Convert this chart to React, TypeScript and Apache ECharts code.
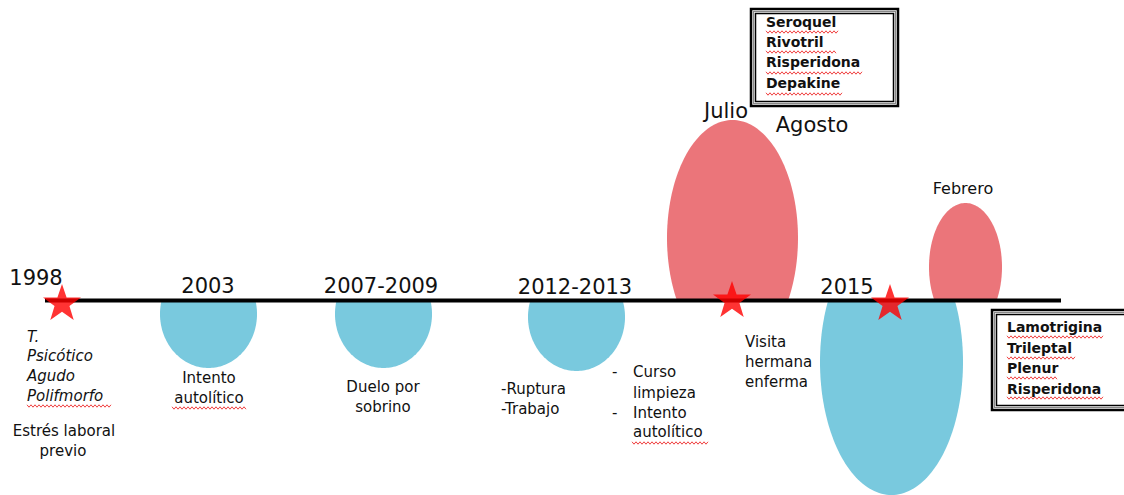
import React, { useEffect, useRef } from "react";
import * as echarts from "echarts";

// Timeline axis (pixel-like units, y grows downward)
const LINE_Y = 300.5;
const lineStart = 45;
const lineEnd = 1061;

// Year labels on the timeline
const yearLabels = ["1998", "2003", "2007-2009", "2012-2013", "2015"];
const yearLabelX = [36, 208, 381, 575, 847];
const yearLabelY = [278, 286, 286, 287, 287];

// Blue (below the line) episodes: centre, radii
const blueCx = [208.5, 383.5, 576.5, 891.5];
const blueCy = [314, 314, 317, 362];
const blueRx = [48.5, 48.5, 48.5, 71.5];
const blueRy = [54, 54, 54, 133];

// Red (above the line) episodes
const redCx = [732.5, 965.5];
const redCy = [238, 267];
const redRx = [65.5, 36.5];
const redRy = [118, 64];

// Stars
const starX = [62, 732, 890];
const starY = [302, 299, 302];

// Month labels
const monthLabels = ["Julio", "Agosto", "Febrero"];
const monthX = [726, 812, 963];
const monthY = [111, 125, 188];
const monthSize = [21, 21, 16];

// Annotation texts
const noteTexts = [
  "T.", "Psicótico", "Agudo", "Polifmorfo",
  "Estrés laboral", "previo",
  "Intento", "autolítico",
  "Duelo por", "sobrino",
  "-Ruptura", "-Trabajo",
  "-", "Curso", "limpieza", "-", "Intento", "autolítico",
  "Visita", "hermana", "enferma",
];
const noteX = [
  27, 27, 27, 27,
  64, 63,
  209, 209,
  383, 383,
  501, 501,
  612, 633, 633, 612, 633, 633,
  745, 745, 745,
];
const noteY = [
  337, 356, 376, 396,
  431, 451,
  378, 398,
  387, 407,
  389, 409,
  372, 372, 393, 413, 413, 432,
  342, 362, 382,
];
const noteAlign = [
  "left", "left", "left", "left",
  "center", "center",
  "center", "center",
  "center", "center",
  "left", "left",
  "left", "left", "left", "left", "left", "left",
  "left", "left", "left",
];
const noteItalic = [true, true, true, true];

// Medication boxes
const box1Meds = ["Seroquel", "Rivotril", "Risperidona", "Depakine"];
const box1Y = [22, 42, 62, 83];
const box2Meds = ["Lamotrigina", "Trileptal", "Plenur", "Risperidona"];
const box2Y = [327, 348, 368, 389];

// Spell-check underlines [x1, x2, y]
const squiggles = [
  [27, 111, 406], [172, 247, 408], [632, 708, 443],
  [766, 838, 32], [766, 836, 52], [766, 862, 73], [766, 843, 94],
  [1007, 1104, 337], [1007, 1076, 358], [1007, 1057, 378], [1007, 1103, 398],
];

const FONT = "'DejaVu Sans', Verdana, sans-serif";
const STAR =
  "path://M12,0 L14.9,8.5 L24,8.5 L16.7,13.9 L19.4,22.8 L12,17.5 L4.6,22.8 L7.3,13.9 L0,8.5 L9.1,8.5 Z";

function txt(text: string, x: number, y: number, size: number, align = "left", extra: any = {}) {
  return {
    type: "text",
    z: 10,
    style: {
      text,
      x,
      y,
      fill: "#111",
      fontSize: size,
      fontFamily: FONT,
      fontWeight: extra.bold ? "bold" : "normal",
      fontStyle: extra.italic ? "italic" : "normal",
      textAlign: align,
      align,
      textVerticalAlign: "middle",
      verticalAlign: "middle",
    },
  };
}

function wavy(x1: number, x2: number, y: number) {
  const pts: number[][] = [];
  let up = true;
  for (let x = x1; x <= x2; x += 2) {
    pts.push([x, y + (up ? -1.2 : 1.2)]);
    up = !up;
  }
  return {
    type: "polyline",
    z: 9,
    shape: { points: pts },
    style: { stroke: "#f04040", lineWidth: 1, fill: null },
  };
}

function box(x: number, y: number, w: number, h: number) {
  return [
    { type: "rect", z: 5, shape: { x, y, width: w, height: h }, style: { fill: "#fff", stroke: "#000", lineWidth: 2.5 } },
    { type: "rect", z: 6, shape: { x: x + 2.5, y: y + 2.5, width: w - 5, height: h - 5 }, style: { fill: null, stroke: "#888", lineWidth: 1.2 } },
    { type: "rect", z: 6, shape: { x: x + 4.5, y: y + 4.5, width: w - 9, height: h - 9 }, style: { fill: null, stroke: "#000", lineWidth: 1.5 } },
  ];
}

export default function App() {
  const ref = useRef<HTMLDivElement>(null);
  useEffect(() => {
    if (!ref.current) return;
    const chart = echarts.init(ref.current, undefined, { renderer: "svg" });

    const shapes: any[] = [];
    blueCx.forEach((cx, i) => shapes.push([cx, blueCy[i], blueRx[i], blueRy[i], 1]));
    redCx.forEach((cx, i) => shapes.push([cx, redCy[i], redRx[i], redRy[i], -1]));

    const graphics: any[] = [];
    yearLabels.forEach((t, i) => graphics.push(txt(t, yearLabelX[i], yearLabelY[i], 21, "center")));
    monthLabels.forEach((t, i) => graphics.push(txt(t, monthX[i], monthY[i], monthSize[i], "center")));
    noteTexts.forEach((t, i) =>
      graphics.push(txt(t, noteX[i], noteY[i], 15, noteAlign[i], { italic: !!noteItalic[i] }))
    );
    graphics.push(...box(751, 9, 147, 97));
    graphics.push(...box(992, 310, 145, 100));
    box1Meds.forEach((t, i) => graphics.push(txt(t, 766, box1Y[i], 14, "left", { bold: true })));
    box2Meds.forEach((t, i) => graphics.push(txt(t, 1007, box2Y[i], 14, "left", { bold: true })));
    squiggles.forEach((s) => graphics.push(wavy(s[0], s[1], s[2])));

    chart.setOption({
      animation: false,
      backgroundColor: "#fff",
      grid: { left: 0, right: 0, top: 0, bottom: 0 },
      xAxis: { type: "value", min: 0, max: 1124, show: false },
      yAxis: { type: "value", min: 0, max: 495, inverse: true, show: false },
      graphic: { elements: graphics },
      series: [
        {
          type: "custom",
          z: 1,
          silent: true,
          data: shapes,
          renderItem: (params: any, api: any) => {
            const cx = api.value(0), cy = api.value(1), rx = api.value(2), ry = api.value(3), side = api.value(4);
            const pts: number[][] = [];
            for (let k = 0; k < 180; k++) {
              const t = (k / 180) * Math.PI * 2;
              let y = cy + ry * Math.sin(t);
              if (side > 0) y = Math.max(y, LINE_Y);
              else y = Math.min(y, LINE_Y);
              pts.push(api.coord([cx + rx * Math.cos(t), y]));
            }
            return {
              type: "polygon",
              shape: { points: pts },
              style: { fill: side > 0 ? "#79C9DE" : "#EB757A" },
            };
          },
        },
        {
          type: "line",
          z: 2,
          silent: true,
          symbol: "none",
          data: [[lineStart, LINE_Y], [lineEnd, LINE_Y]],
          lineStyle: { color: "#000", width: 4 },
        },
        {
          type: "scatter",
          z: 3,
          silent: true,
          symbol: STAR,
          symbolSize: [38, 36],
          itemStyle: { color: "#ff0000" },
          data: starX.map((x, i) => [x, starY[i]]),
        },
      ],
    });
    return () => chart.dispose();
  }, []);

  return (
    <div
      ref={ref}
      style={{ position: "absolute", left: 0, top: 0, width: 1124, height: 495 }}
    />
  );
}
